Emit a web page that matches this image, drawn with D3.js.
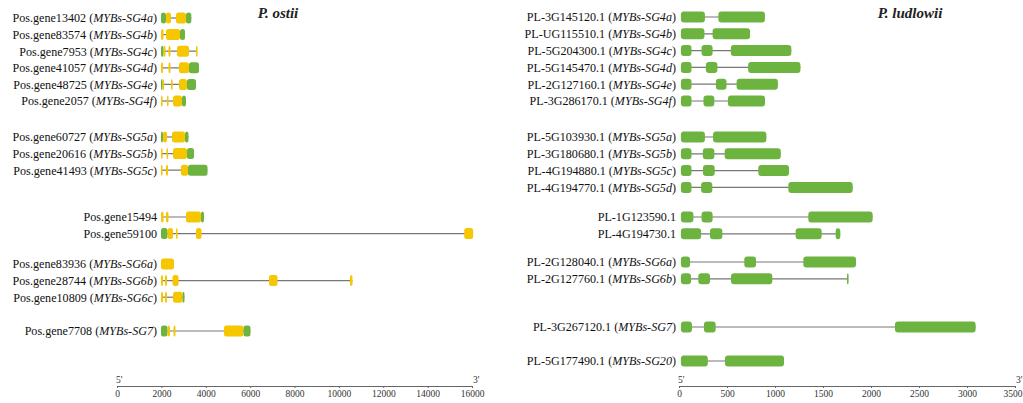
<!DOCTYPE html>
<html><head><meta charset="utf-8">
<script src="https://cdn.jsdelivr.net/npm/d3@7"></script>
<style>
body{margin:0;background:#fff;}
svg{display:block;font-family:"Liberation Serif","Times New Roman",serif;}
</style></head>
<body>
<svg id="chart" width="1023" height="403"></svg>
<script>
// ---------- P. ostii data ----------
const ostiiGenes = ["Pos.gene13402","Pos.gene83574","Pos.gene7953","Pos.gene41057","Pos.gene48725","Pos.gene2057",
  "Pos.gene60727","Pos.gene20616","Pos.gene41493",
  "Pos.gene15494","Pos.gene59100",
  "Pos.gene83936","Pos.gene28744","Pos.gene10809",
  "Pos.gene7708"];
const ostiiNames = ["MYBs-SG4a","MYBs-SG4b","MYBs-SG4c","MYBs-SG4d","MYBs-SG4e","MYBs-SG4f",
  "MYBs-SG5a","MYBs-SG5b","MYBs-SG5c",
  null,null,
  "MYBs-SG6a","MYBs-SG6b","MYBs-SG6c",
  "MYBs-SG7"];
const ostiiGroups = [0,0,0,0,0,0,1,1,1,2,2,3,3,3,4];
// segments: [start, end, type]  (u = UTR, c = CDS)
const ostiiExons = [
  [[1983,2208,"u"],[2208,2434,"c"],[2659,3110,"c"],[3110,3350,"u"]],
  [[1983,2096,"c"],[2208,2839,"c"],[2839,3065,"u"]],
  [[1983,2096,"u"],[2096,2186,"c"],[2321,2411,"c"],[2704,3245,"c"],[3560,3606,"c"]],
  [[1983,2073,"c"],[2321,2411,"c"],[2794,3245,"c"],[3245,3696,"u"]],
  [[1983,2050,"u"],[2050,2118,"c"],[2434,2501,"c"],[2794,3155,"c"],[3155,3560,"u"]],
  [[1983,2050,"c"],[2253,2321,"c"],[2524,2930,"c"],[2930,3110,"u"]],
  [[1983,2073,"u"],[2073,2253,"c"],[2479,3065,"c"],[3065,3222,"u"]],
  [[1983,2050,"c"],[2231,2299,"c"],[2524,3155,"c"],[3155,3470,"u"]],
  [[1983,2050,"c"],[2208,2299,"c"],[2884,3200,"c"],[3200,4079,"u"]],
  [[1983,2096,"c"],[2208,2321,"c"],[3110,3786,"c"],[3786,3921,"u"]],
  [[1983,2276,"u"],[2276,2524,"c"],[2659,2727,"c"],[3560,3808,"c"],[15650,16050,"c"]],
  [[1983,2569,"c"]],
  [[1983,2073,"c"],[2163,2253,"c"],[2501,2772,"c"],[6851,7234,"c"],[10500,10614,"c"]],
  [[1983,2073,"c"],[2163,2253,"c"],[2524,2952,"c"],[2952,3042,"u"]],
  [[1983,2276,"u"],[2276,2389,"c"],[2546,2637,"c"],[4822,5701,"c"],[5701,6017,"u"]]
];
const ostiiTicks = [0,2000,4000,6000,8000,10000,12000,14000,16000];

// ---------- P. ludlowii data ----------
const ludGenes = ["PL-3G145120.1","PL-UG115510.1","PL-5G204300.1","PL-5G145470.1","PL-2G127160.1","PL-3G286170.1",
  "PL-5G103930.1","PL-3G180680.1","PL-4G194880.1","PL-4G194770.1",
  "PL-1G123590.1","PL-4G194730.1",
  "PL-2G128040.1","PL-2G127760.1",
  "PL-3G267120.1",
  "PL-5G177490.1"];
const ludNames = ["MYBs-SG4a","MYBs-SG4b","MYBs-SG4c","MYBs-SG4d","MYBs-SG4e","MYBs-SG4f",
  "MYBs-SG5a","MYBs-SG5b","MYBs-SG5c","MYBs-SG5d",
  null,null,
  "MYBs-SG6a","MYBs-SG6b",
  "MYBs-SG7",
  "MYBs-SG20"];
const ludGroups = [0,0,0,0,0,0,1,1,1,1,2,2,3,3,4,5];
const ludExons = [
  [[20,270],[410,895]],
  [[20,265],[350,740]],
  [[20,130],[235,350],[540,1170]],
  [[20,130],[280,400],[720,1265]],
  [[20,130],[385,495],[600,1030]],
  [[20,130],[255,368],[510,896]],
  [[20,270],[355,910]],
  [[20,130],[248,368],[476,1060]],
  [[20,130],[250,372],[826,1146]],
  [[20,130],[230,347],[1139,1809]],
  [[20,150],[235,350],[1347,2017]],
  [[20,230],[323,451],[1215,1486],[1632,1680]],
  [[20,115],[680,802],[1295,1844]],
  [[20,125],[201,323],[542,972],[1750,1762]],
  [[20,135],[260,382],[2250,3090]],
  [[20,300],[479,1094]]
];
const ludTicks = [0,500,1000,1500,2000,2500,3000,3500];

// ---------- styles / layout ----------
const YELLOW = "#F6C600", GREEN = "#6DB33F", INTRON = "#777";
const svg = d3.select("#chart");

function panel(cfg){
  const g = svg.append("g");
  const x = d3.scaleLinear().domain(cfg.domain).range(cfg.range);
  const rowY = (i) => cfg.groupTop[cfg.groups[i]] + (i - cfg.groups.indexOf(cfg.groups[i])) * cfg.step;

  cfg.genes.forEach((name, i) => {
    const y = rowY(i);
    const segs = cfg.exons[i];
    const row = g.append("g");
    row.append("line")
      .attr("x1", x(segs[0][0])).attr("x2", x(segs[segs.length-1][1]))
      .attr("y1", y).attr("y2", y)
      .attr("stroke", INTRON).attr("stroke-width", 1.2);
    row.selectAll("rect").data(segs).join("rect")
      .attr("x", d => x(d[0]))
      .attr("width", d => Math.max(x(d[1]) - x(d[0]), 1.6))
      .attr("y", y - cfg.h/2).attr("height", cfg.h)
      .attr("rx", cfg.rx).attr("ry", cfg.rx)
      .attr("fill", d => (d[2] === "c") ? YELLOW : GREEN);
    const t = g.append("text")
      .attr("x", cfg.labelX).attr("y", y + 4.3)
      .attr("text-anchor", "end")
      .attr("font-size", cfg.fs).attr("fill", "#111");
    t.append("tspan").text(name);
    if (cfg.names[i]) {
      t.append("tspan").text(" (");
      t.append("tspan").attr("font-style", "italic").text(cfg.names[i]);
      t.append("tspan").text(")");
    }
  });

  const axis = d3.axisBottom(x).tickValues(cfg.ticks).tickSize(2).tickPadding(2)
    .tickFormat(d3.format("d"));
  const ag = g.append("g").attr("transform", `translate(0,${cfg.axisY})`).call(axis);
  ag.select(".domain").attr("stroke", "#666").attr("stroke-width", 1);
  ag.selectAll(".tick line").attr("stroke", "#666");
  ag.selectAll(".tick text").attr("font-family", '"Liberation Serif",serif')
    .attr("font-size", 9.5).attr("fill", "#333");
  if (cfg.lastEnd) {
    ag.selectAll(".tick text").filter(d => d === cfg.ticks[cfg.ticks.length-1])
      .attr("text-anchor", "end").attr("dx", 7);
  }
  g.append("text").attr("x", cfg.range[0] - 1).attr("y", cfg.axisY - 3)
    .attr("font-size", 9.5).attr("fill", "#333").text("5'");
  g.append("text").attr("x", cfg.range[1] + 1).attr("y", cfg.axisY - 3)
    .attr("font-size", 9.5).attr("fill", "#333").text("3'");

  g.append("text").attr("x", cfg.titleX).attr("y", 18)
    .attr("text-anchor", "middle").attr("font-size", 15)
    .attr("font-style", "italic").attr("font-weight", "bold").attr("fill", "#222")
    .text(cfg.title);
}

panel({
  genes: ostiiGenes, names: ostiiNames, groups: ostiiGroups, exons: ostiiExons, ticks: ostiiTicks,
  domain: [0, 16000], range: [117, 472],
  groupTop: [18, 137, 217, 264, 331], step: 16.6,
  h: 11, rx: 2.5, labelX: 157, fs: 12.1, axisY: 386,
  title: "P. ostii", titleX: 278
});
panel({
  genes: ludGenes, names: ludNames, groups: ludGroups, exons: ludExons, ticks: ludTicks,
  domain: [0, 3500], range: [679, 1015],
  groupTop: [17, 137, 217, 262, 327, 361], step: 16.8,
  h: 11, rx: 3, labelX: 676, fs: 12.1, axisY: 386,
  title: "P. ludlowii", titleX: 910, lastEnd: true
});
</script>
</body></html>
